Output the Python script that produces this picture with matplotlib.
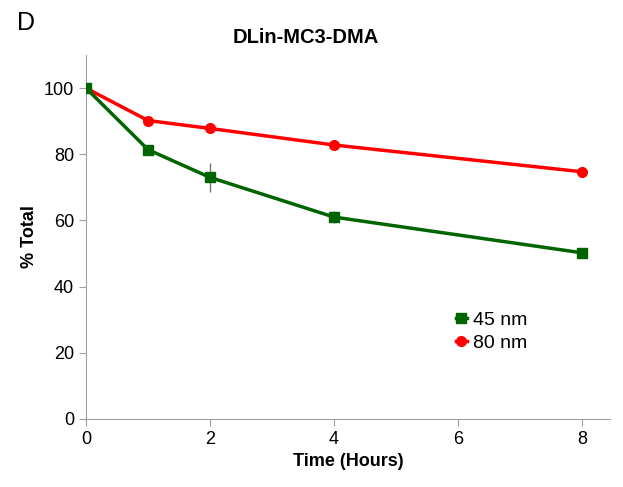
import matplotlib
matplotlib.use("Agg")
import matplotlib.pyplot as plt
from matplotlib.lines import Line2D

plt.rcParams['font.family'] = ['Liberation Sans', 'DejaVu Sans']

hours = [0, 1, 2, 4, 8]
nm45 = [100, 81.4, 73.0, 61.0, 50.2]
nm45_err = [0.5, 1.0, 4.5, 1.8, 1.2]
nm80 = [100, 90.2, 87.8, 82.8, 74.7]
nm80_err = [0.3, 0.5, 0.5, 0.5, 0.5]

green = '#006400'
red = '#ff0000'

fig = plt.figure(figsize=(6.23, 4.87), dpi=100)
ax = fig.add_axes([0.138, 0.14, 0.841, 0.747])

ax.errorbar(hours, nm80, yerr=nm80_err, color=red, marker='o', markersize=7,
            linewidth=2.5, ecolor='#777777', elinewidth=1, capsize=0, zorder=3)
ax.errorbar(hours, nm45, yerr=nm45_err, color=green, marker='s', markersize=7,
            linewidth=2.5, ecolor='#777777', elinewidth=1, capsize=0, zorder=4)

ax.set_xlim(0, 8.45)
ax.set_ylim(0, 110)
ax.set_xticks([0, 2, 4, 6, 8])
ax.set_yticks([0, 20, 40, 60, 80, 100])
ax.tick_params(labelsize=13, color='#a0a0a0', length=5)
for s in ['top', 'right']:
    ax.spines[s].set_visible(False)
for s in ['left', 'bottom']:
    ax.spines[s].set_color('#a0a0a0')

ax.set_xlabel('Time (Hours)', fontsize=13, fontweight='bold')
ax.set_ylabel('% Total', fontsize=13, fontweight='bold')

handles = [Line2D([], [], color=green, marker='s', markersize=7, linewidth=2.5),
           Line2D([], [], color=red, marker='o', markersize=7, linewidth=2.5)]
ax.legend(handles, ['45 nm', '80 nm'], loc='upper left', bbox_to_anchor=(0.672, 0.343),
          frameon=False, fontsize=14, handlelength=0.6, handletextpad=0.3,
          labelspacing=0.25)

fig.text(0.49, 0.923, 'DLin-MC3-DMA', ha='center', va='center', fontsize=14.5, fontweight='bold')
fig.text(0.028, 0.953, 'D', ha='left', va='center', fontsize=18)

fig.savefig('out.png', dpi=100)
